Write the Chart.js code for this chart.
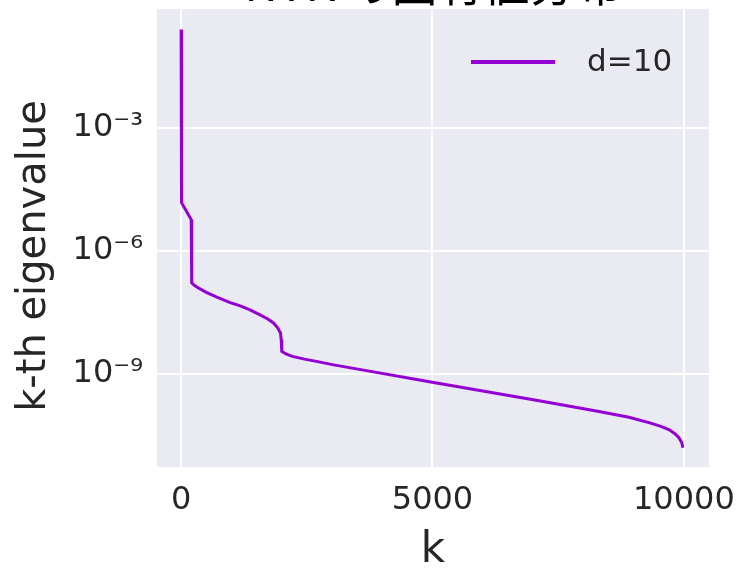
<!DOCTYPE html>
<html>
<head>
<meta charset="utf-8">
<script src="https://cdn.jsdelivr.net/npm/chart.js@4.4.1/dist/chart.umd.min.js"></script>
<style>
  html, body { margin: 0; padding: 0; background: #fff; }
</style>
</head>
<body>
<canvas id="eigCanvas" width="738" height="570"></canvas>
<script>
// data
const chartTitle = 'NTK の固有値分布';
const seriesLabel = 'd=10';
const xLabel = 'k';
const yLabel = 'k-th eigenvalue';

const kValues = [0, 8, 200, 210, 268, 367, 500, 699, 963, 1162, 1360, 1559, 1724, 1837, 1923,
  1976, 1990, 2002, 2095, 2214, 2453, 2691, 3009, 3347, 4995, 7120, 8312, 8908, 9305, 9543,
  9702, 9821, 9901, 9960, 9980];
const eigenValues = [2.5e-1, 1.5e-5, 5.8e-6, 1.66e-7, 1.43e-7, 1.2e-7, 9.8e-8, 7.55e-8, 5.57e-8,
  4.63e-8, 3.7e-8, 2.79e-8, 2.19e-8, 1.75e-8, 1.32e-8,
  1.0e-8, 6.9e-9, 3.56e-9, 3.04e-9, 2.69e-9, 2.3e-9, 2.03e-9, 1.69e-9, 1.43e-9, 6.3e-10,
  2.23e-10, 1.22e-10, 8.8e-11, 6.5e-11, 5.3e-11,
  4.4e-11, 3.5e-11, 2.8e-11, 2.1e-11, 1.59e-11];

const xTickValues = [0, 5000, 10000];
const yTickValues = [1e-3, 1e-6, 1e-9];
const yTickLabels = ['10⁻³', '10⁻⁶', '10⁻⁹'];

const lineColor = '#9400D3';
const textColor = '#262626';
const panelColor = '#EAEAF2';
const fontFamily = '"DejaVu Sans", sans-serif';

const panelBackground = {
  id: 'panelBackground',
  beforeDraw(chart) {
    const { ctx, chartArea: a } = chart;
    ctx.save();
    ctx.fillStyle = panelColor;
    ctx.fillRect(a.left, a.top, a.right - a.left, a.bottom - a.top);
    ctx.restore();
  }
};

// title sits mostly above the visible frame, only its lower edge shows
const clippedTitle = {
  id: 'clippedTitle',
  afterDraw(chart) {
    const { ctx, chartArea: a } = chart;
    ctx.save();
    ctx.font = '46px "Noto Sans CJK JP", sans-serif';
    ctx.fillStyle = '#000';
    ctx.textAlign = 'center';
    ctx.textBaseline = 'alphabetic';
    ctx.fillText(chartTitle, (a.left + a.right) / 2, 1);
    ctx.restore();
  }
};

const sideLabel = {
  id: 'sideLabel',
  afterDraw(chart) {
    const { ctx } = chart;
    ctx.save();
    ctx.translate(35, 256);
    ctx.rotate(-Math.PI / 2);
    ctx.font = '40px ' + fontFamily;
    ctx.fillStyle = textColor;
    ctx.textAlign = 'center';
    ctx.textBaseline = 'middle';
    ctx.fillText(yLabel, 0, 0);
    ctx.restore();
  }
};

// matplotlib style legend in the upper right corner of the panel
const cornerLegend = {
  id: 'cornerLegend',
  afterDatasetsDraw(chart) {
    const { ctx, chartArea: a } = chart;
    const ds = chart.data.datasets[0];
    const y = a.top + 53;
    ctx.save();
    ctx.strokeStyle = ds.borderColor;
    ctx.lineWidth = 4;
    ctx.beginPath();
    ctx.moveTo(a.right - 238, y);
    ctx.lineTo(a.right - 154, y);
    ctx.stroke();
    ctx.font = '31px ' + fontFamily;
    ctx.fillStyle = textColor;
    ctx.textAlign = 'left';
    ctx.textBaseline = 'middle';
    ctx.fillText(ds.label, a.right - 122, y + 1);
    ctx.restore();
  }
};

const points = kValues.map((k, i) => ({ x: k, y: eigenValues[i] }));

new Chart(document.getElementById('eigCanvas').getContext('2d'), {
  type: 'line',
  data: {
    datasets: [{
      label: seriesLabel,
      data: points,
      borderColor: lineColor,
      backgroundColor: lineColor,
      borderWidth: 3,
      pointRadius: 0,
      tension: 0,
      fill: false
    }]
  },
  options: {
    responsive: false,
    animation: false,
    devicePixelRatio: 1,
    layout: { padding: { top: 9, right: 29, left: 0, bottom: 0 } },
    plugins: {
      tooltip: { enabled: false },
      legend: { display: false }
    },
    scales: {
      x: {
        type: 'linear',
        min: -480,
        max: 10500,
        afterBuildTicks: s => { s.ticks = xTickValues.map(v => ({ value: v })); },
        afterFit: s => { s.height = 103; s.paddingLeft = 0; s.paddingRight = 0; },
        grid: { color: '#ffffff', lineWidth: 2, drawTicks: false },
        border: { display: false },
        ticks: {
          color: textColor,
          padding: 14,
          maxRotation: 0,
          font: { family: fontFamily, size: 32 },
          callback: v => String(v)
        },
        title: {
          display: true,
          text: xLabel,
          color: textColor,
          padding: { top: 0, bottom: 0 },
          font: { family: fontFamily, size: 42, lineHeight: 0.9 }
        }
      },
      y: {
        type: 'logarithmic',
        min: 5.4e-12,
        max: 0.79,
        afterBuildTicks: s => { s.ticks = yTickValues.map(v => ({ value: v })); },
        afterFit: s => { s.width = 157; s.paddingTop = 0; s.paddingBottom = 0; },
        grid: { color: '#ffffff', lineWidth: 2, drawTicks: false },
        border: { display: false },
        ticks: {
          color: textColor,
          padding: 14,
          font: { family: fontFamily, size: 32 },
          callback: v => yTickLabels[yTickValues.indexOf(v)]
        }
      }
    }
  },
  plugins: [panelBackground, clippedTitle, sideLabel, cornerLegend]
});
</script>
</body>
</html>
